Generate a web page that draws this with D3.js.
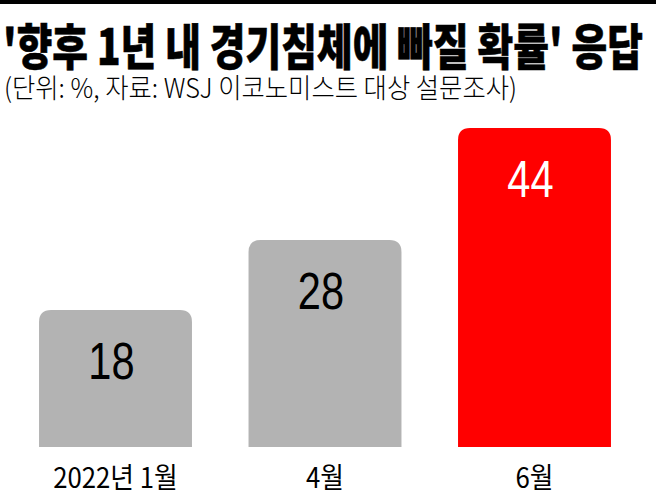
<!DOCTYPE html>
<html>
<head>
<meta charset="utf-8">
<script src="https://cdn.jsdelivr.net/npm/d3@7"></script>
<style>
  body { margin: 0; background: #fff; }
  svg { display: block; }
</style>
</head>
<body>
<div id="chart"></div>
<script>
const width = 656;
const height = 492;

// data
const categories = ['2022년 1월', '4월', '6월'];
const values = [18, 28, 44];
const barColors = ['#b3b3b3', '#b3b3b3', '#ff0000'];
const labelColors = ['#000', '#000', '#fff'];

const titleText = "'향후 1년 내 경기침체에 빠질 확률' 응답";
const subtitleText = '(단위: %, 자료: WSJ 이코노미스트 대상 설문조사)';

const barBottom = 447;
const cornerRadius = 12;
const krFont = "'Noto Sans CJK KR', 'Noto Sans', sans-serif";
const numFont = "'Liberation Sans', Arial, sans-serif";

const svg = d3.select('#chart')
  .append('svg')
  .attr('width', width)
  .attr('height', height);

// thick rule at the very top
svg.append('rect')
  .attr('x', 0)
  .attr('y', 0)
  .attr('width', width)
  .attr('height', 4)
  .attr('fill', '#000');

// title, heavy and squeezed to the reference width
svg.append('text')
  .attr('x', 3)
  .attr('y', 65)
  .attr('font-family', krFont)
  .attr('font-weight', 900)
  .attr('font-size', 49)
  .attr('textLength', 640)
  .attr('lengthAdjust', 'spacingAndGlyphs')
  .attr('fill', '#000')
  .attr('stroke', '#000')
  .attr('stroke-width', 0.6)
  .text(titleText);

svg.append('text')
  .attr('x', 4)
  .attr('y', 98)
  .attr('font-family', krFont)
  .attr('font-weight', 300)
  .attr('font-size', 27)
  .attr('textLength', 513)
  .attr('lengthAdjust', 'spacingAndGlyphs')
  .attr('fill', '#000')
  .text(subtitleText);

const x = d3.scaleBand()
  .domain(categories)
  .range([10.75, 639.25])
  .paddingInner(0.27)
  .paddingOuter(0.135);

const y = d3.scaleLinear()
  .domain([0, d3.max(values)])
  .range([436, 128]);

const data = categories.map((c, i) => ({ cat: c, value: values[i], i }));

// bar with rounded top corners only
const barPath = d => {
  const x0 = x(d.cat);
  const x1 = x0 + x.bandwidth();
  const top = y(d.value);
  const r = cornerRadius;
  return `M${x0},${barBottom} V${top + r} Q${x0},${top} ${x0 + r},${top} H${x1 - r} Q${x1},${top} ${x1},${top + r} V${barBottom} Z`;
};

svg.selectAll('.bar')
  .data(data)
  .enter()
  .append('path')
  .attr('class', 'bar')
  .attr('d', barPath)
  .attr('fill', d => barColors[d.i]);

// value labels inside the bars, condensed
svg.selectAll('.value')
  .data(data)
  .enter()
  .append('text')
  .attr('class', 'value')
  .attr('transform', d => `translate(${x(d.cat) + x.bandwidth() / 2 - 4}, ${y(d.value) + 69}) scale(0.8, 1)`)
  .attr('text-anchor', 'middle')
  .attr('font-family', numFont)
  .attr('font-size', 52)
  .attr('fill', d => labelColors[d.i])
  .text(d => d.value);

// category labels under the bars
svg.selectAll('.cat')
  .data(data)
  .enter()
  .append('text')
  .attr('class', 'cat')
  .attr('transform', d => `translate(${x(d.cat) + x.bandwidth() / 2}, 488) scale(0.92, 1)`)
  .attr('text-anchor', 'middle')
  .attr('font-family', krFont)
  .attr('font-size', 28)
  .attr('fill', '#000')
  .text(d => d.cat);
</script>
</body>
</html>
